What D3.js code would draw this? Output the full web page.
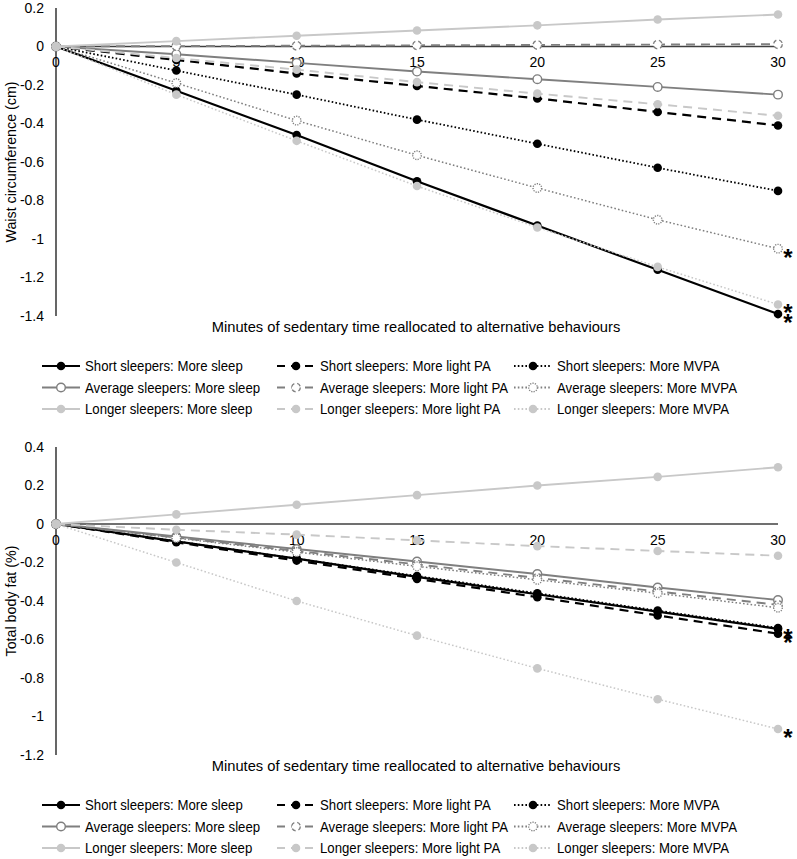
<!DOCTYPE html>
<html><head><meta charset="utf-8">
<script src="https://cdn.jsdelivr.net/npm/d3@7"></script>
<style>
body{margin:0;background:#fff}
svg{display:block}
text{font-family:"Liberation Sans",Arial,sans-serif;fill:#000}
</style>
</head><body>
<svg id="chart" width="797" height="859"></svg>
<script>
// ---------------- DATA ----------------
const minutes = [0, 5, 10, 15, 20, 25, 30];
const xTicks = [0, 5, 10, 15, 20, 25, 30];

const seriesNames = [
  "Short sleepers: More sleep", "Short sleepers: More light PA", "Short sleepers: More MVPA",
  "Average sleepers: More sleep", "Average sleepers: More light PA", "Average sleepers: More MVPA",
  "Longer sleepers: More sleep", "Longer sleepers: More light PA", "Longer sleepers: More MVPA"
];
const sleeperGroup = ["short","short","short","average","average","average","longer","longer","longer"];
const behaviour = ["sleep","light","mvpa","sleep","light","mvpa","sleep","light","mvpa"];

// Waist circumference (cm), one list per series in seriesNames order
const waistValues = [
  [0, -0.23, -0.46, -0.70, -0.93, -1.16, -1.39],
  [0, -0.07, -0.14, -0.205, -0.27, -0.34, -0.41],
  [0, -0.125, -0.25, -0.38, -0.505, -0.63, -0.75],
  [0, -0.04, -0.085, -0.13, -0.17, -0.21, -0.25],
  [0, 0.002, 0.004, 0.006, 0.008, 0.01, 0.012],
  [0, -0.19, -0.385, -0.565, -0.735, -0.90, -1.05],
  [0, 0.028, 0.056, 0.083, 0.11, 0.14, 0.166],
  [0, -0.06, -0.12, -0.185, -0.245, -0.30, -0.36],
  [0, -0.25, -0.49, -0.725, -0.94, -1.145, -1.34]
];
const waistTicks = [0.2, 0, -0.2, -0.4, -0.6, -0.8, -1, -1.2, -1.4];
const waistStarred = [5, 8, 0];

// Total body fat (%)
const fatValues = [
  [0, -0.09, -0.18, -0.275, -0.365, -0.455, -0.545],
  [0, -0.095, -0.19, -0.285, -0.38, -0.475, -0.57],
  [0, -0.09, -0.18, -0.27, -0.36, -0.45, -0.54],
  [0, -0.065, -0.13, -0.195, -0.26, -0.33, -0.395],
  [0, -0.07, -0.14, -0.21, -0.28, -0.35, -0.42],
  [0, -0.073, -0.146, -0.22, -0.29, -0.36, -0.435],
  [0, 0.05, 0.10, 0.15, 0.20, 0.245, 0.295],
  [0, -0.03, -0.055, -0.085, -0.115, -0.14, -0.165],
  [0, -0.2, -0.4, -0.58, -0.75, -0.91, -1.065]
];
const fatTicks = [0.4, 0.2, 0, -0.2, -0.4, -0.6, -0.8, -1, -1.2];
const fatStarred = [0, 1, 8];

const xTitle = "Minutes of sedentary time reallocated to alternative behaviours";

// ---------------- STYLE ----------------
const colour = {short: "#000000", average: "#7f7f7f", longer: "#c8c8c8"};
const dash = {sleep: null, light: "9,6", mvpa: "1.6,2.2"};
const width = {sleep: 2.2, light: 2.2, mvpa: 1.8};

const svg = d3.select("#chart");

function condense(sel, k) {
  sel.each(function () {
    const len = this.getComputedTextLength();
    d3.select(this).attr("textLength", len * k).attr("lengthAdjust", "spacingAndGlyphs");
  });
}

function drawPanel(cfg) {
  const x = d3.scaleLinear().domain([0, 30]).range([56, 778]);
  const y = d3.scaleLinear().domain(cfg.domain).range([cfg.bottom, cfg.top]);
  const g = svg.append("g");

  // y tick labels
  g.selectAll(".yt").data(cfg.ticks).join("text")
    .attr("x", 44).attr("y", d => y(d)).attr("dy", "0.35em")
    .attr("text-anchor", "end").style("font-size", "14px")
    .text(d => String(+d.toFixed(1)));

  // axes lines
  g.append("line").attr("x1", x(0)).attr("x2", x(0))
    .attr("y1", y(cfg.domain[1])).attr("y2", y(cfg.domain[0]))
    .attr("stroke", "#404040").attr("stroke-width", 1.6);
  g.append("line").attr("x1", x(0)).attr("x2", x(30))
    .attr("y1", y(0)).attr("y2", y(0))
    .attr("stroke", "#404040").attr("stroke-width", 1.6);

  // x tick labels
  g.selectAll(".xt").data(xTicks).join("text")
    .attr("x", d => x(d)).attr("y", y(0) + 16).attr("dy", "0.35em")
    .attr("text-anchor", "middle").style("font-size", "14px")
    .text(d => d);

  // y title
  g.append("text")
    .attr("transform", `translate(16,${(cfg.top + cfg.bottom) / 2}) rotate(-90)`)
    .attr("text-anchor", "middle").style("font-size", "15px")
    .text(cfg.yTitle).call(condense, 0.95);

  // x title
  g.append("text").attr("x", 416).attr("y", cfg.bottom + 11).attr("dy", "0.35em")
    .attr("text-anchor", "middle").style("font-size", "15px").text(xTitle)
    .call(condense, 0.98);

  const line = d3.line().x((d, i) => x(minutes[i])).y(d => y(d));

  cfg.values.forEach((vals, s) => {
    const c = colour[sleeperGroup[s]], b = behaviour[s];
    g.append("path").datum(vals).attr("d", line)
      .attr("fill", "none").attr("stroke", c)
      .attr("stroke-width", width[b] - (sleeperGroup[s] === "short" ? 0 : 0.3))
      .attr("stroke-dasharray", dash[b]);
    g.selectAll(null).data(vals).join("circle")
      .attr("cx", (d, i) => x(minutes[i])).attr("cy", d => y(d))
      .call(markerStyle, s);
  });

  // asterisks (one text element, one tspan per significant series)
  g.append("text").attr("text-anchor", "middle")
    .style("font-size", "24px").style("font-weight", "bold")
    .selectAll("tspan").data(cfg.starred).join("tspan")
    .attr("x", x(30) + 10).attr("y", s => y(cfg.values[s][6]) + 2)
    .attr("dy", "0.62em").text("*");

  // legend
  const colX = [42, 277, 514];
  seriesNames.forEach((name, s) => {
    const col = s % 3, row = Math.floor(s / 3);
    const ly = cfg.legendTop + row * 21.5;
    const x0 = colX[col];
    const c = colour[sleeperGroup[s]], b = behaviour[s];
    const lg = g.append("g");
    lg.append("line").attr("x1", x0).attr("x2", x0 + 38).attr("y1", ly).attr("y2", ly)
      .attr("stroke", c).attr("stroke-width", width[b])
      .attr("stroke-dasharray", b === "light" ? "8,6" : dash[b]);
    lg.append("circle").attr("cx", x0 + 19).attr("cy", ly).call(markerStyle, s);
    lg.append("text").attr("x", x0 + 43).attr("y", ly).attr("dy", "0.36em")
      .style("font-size", "15px").text(name).call(condense, 0.88);
  });
}

function markerStyle(sel, s) {
  const grp = sleeperGroup[s], b = behaviour[s];
  sel.attr("r", 4.3);
  if (grp === "average") {
    sel.attr("fill", "#fff").attr("stroke", colour.average).attr("stroke-width", 1.4)
      .attr("stroke-dasharray", b === "sleep" ? null : (b === "light" ? "4,3" : "1.2,1.2"));
  } else {
    sel.attr("fill", colour[grp]).attr("stroke", "none");
  }
}

drawPanel({domain: [-1.4, 0.2], top: 8, bottom: 316, ticks: waistTicks,
  values: waistValues, starred: waistStarred, yTitle: "Waist circumference (cm)", legendTop: 366});
drawPanel({domain: [-1.2, 0.4], top: 447, bottom: 755, ticks: fatTicks,
  values: fatValues, starred: fatStarred, yTitle: "Total body fat (%)", legendTop: 805});
</script>
</body></html>
